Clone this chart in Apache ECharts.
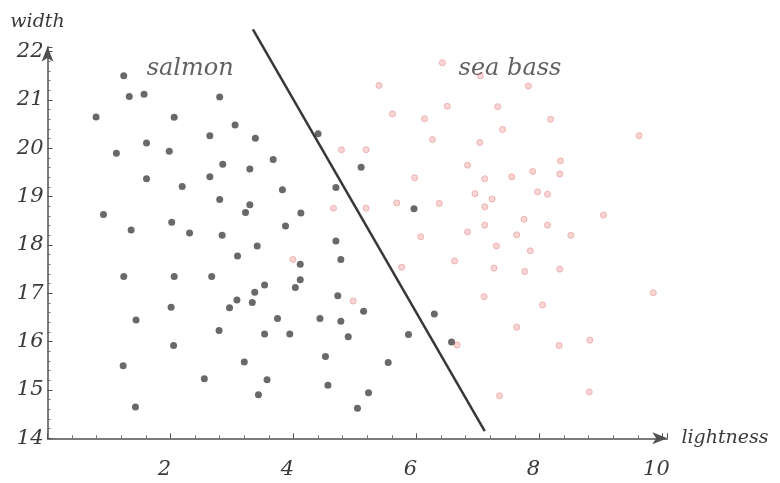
<!DOCTYPE html>
<html>
<head>
<meta charset="utf-8">
<script src="https://cdn.jsdelivr.net/npm/echarts@6/dist/echarts.min.js"></script>
<style>html,body{margin:0;padding:0;background:#fff}#c{width:780px;height:483px}</style>
</head>
<body>
<div id="c"></div>
<script>
// lightness, width
const salmon = [
  [1.24,21.50],[1.33,21.07],[1.57,21.12],[0.79,20.65],[2.06,20.64],[2.80,21.06],[3.05,20.48],
  [2.64,20.26],[3.38,20.21],[1.61,20.11],[1.12,19.90],[1.98,19.94],[2.85,19.67],[3.29,19.57],
  [1.61,19.37],[2.64,19.41],[2.19,19.21],[2.80,18.94],[3.29,18.83],[3.22,18.67],[0.91,18.63],
  [2.02,18.47],[1.36,18.31],[2.31,18.25],[2.84,18.20],[3.41,17.98],[3.09,17.77],[1.24,17.35],
  [2.06,17.35],[2.67,17.35],[3.37,17.02],[3.08,16.86],[3.33,16.81],[2.96,16.70],[2.01,16.71],
  [1.44,16.45],[2.79,16.23],[2.05,15.92],[1.23,15.50],[3.20,15.58],[2.55,15.23],[3.43,14.90],
  [1.43,14.65],[4.40,20.30],[3.67,19.77],[5.10,19.61],[4.69,19.19],[3.82,19.14],[4.12,18.66],
  [3.87,18.39],[5.96,18.75],[4.69,18.08],[4.77,17.70],[4.11,17.60],[4.11,17.28],[4.03,17.12],
  [3.53,17.17],[4.72,16.95],[5.14,16.63],[3.74,16.48],[4.43,16.48],[4.77,16.42],[3.53,16.16],
  [3.94,16.16],[4.89,16.10],[6.29,16.57],[5.87,16.15],[6.57,15.99],[4.52,15.69],[5.54,15.57],
  [3.57,15.21],[4.56,15.10],[5.22,14.94],[5.04,14.62]
];
const seaBass = [
  [6.42,21.77],[7.04,21.50],[5.39,21.30],[6.50,20.87],[7.32,20.86],[5.61,20.71],[6.13,20.61],
  [7.40,20.39],[6.26,20.18],[7.03,20.12],[4.78,19.97],[5.18,19.97],[6.83,19.65],[5.97,19.39],
  [7.11,19.37],[7.55,19.41],[6.95,19.06],[7.23,18.95],[5.68,18.87],[6.37,18.86],[4.65,18.76],
  [5.18,18.76],[7.11,18.79],[7.11,18.41],[6.83,18.27],[6.07,18.17],[7.63,18.21],[7.30,17.98],
  [3.99,17.70],[5.76,17.54],[6.62,17.67],[7.26,17.52],[4.97,16.84],[7.10,16.93],[7.63,16.30],
  [6.66,15.93],[7.35,14.88],[7.82,21.29],[8.18,20.60],[9.62,20.26],[8.34,19.74],[8.33,19.47],
  [7.89,19.52],[7.97,19.10],[8.13,19.05],[9.04,18.62],[7.75,18.53],[8.13,18.41],[8.51,18.20],
  [7.85,17.88],[7.76,17.45],[8.33,17.50],[9.85,17.01],[8.05,16.76],[8.32,15.92],[8.82,16.03],
  [8.81,14.96]
];
const boundary = [[3.34,22.46],[7.11,14.15]];
const xTicks = [2,4,6,8,10];
const yTicks = [14,15,16,17,18,19,20,21,22];
const classLabels = [{name:'salmon', at:[2.32,21.65]}, {name:'sea bass', at:[7.52,21.65]}];

const FONT = 'DejaVu Serif';
const TXT = '#3a3a3a';
const chart = echarts.init(document.getElementById('c'), null, {renderer:'canvas'});
chart.setOption({
  animation:false,
  backgroundColor:'#fff',
  grid:{left:47.5, right:112.6, top:46.8, bottom:44.7},
  xAxis:{
    type:'value', min:0, max:10.08, interval:2,
    name:'lightness', nameLocation:'end', nameGap:14,
    nameTextStyle:{fontFamily:FONT, fontStyle:'italic', fontSize:19, color:TXT, padding:[10,0,0,0]},
    axisLine:{show:true, onZero:false, symbol:['none','arrow'], symbolSize:[9,15], lineStyle:{color:'#505050', width:1.5}},
    axisTick:{show:true, inside:true, length:5, lineStyle:{color:'#505050'}},
    minorTick:{show:true, splitNumber:5, length:3, lineStyle:{color:'#707070'}},
    axisLabel:{margin:21, fontFamily:FONT, fontStyle:'italic', fontSize:21, color:TXT, showMinLabel:false, showMaxLabel:false, padding:[0,12,0,0],
      formatter:v=> xTicks.includes(v) ? String(v) : ''},
    splitLine:{show:false}
  },
  yAxis:{
    type:'value', min:14, max:22.1, interval:1,
    name:'width', nameLocation:'end', nameGap:15,
    nameTextStyle:{fontFamily:FONT, fontStyle:'italic', fontSize:19, color:TXT, padding:[0,20,0,0]},
    axisLine:{show:true, onZero:false, symbol:['none','arrow'], symbolSize:[9,15], lineStyle:{color:'#505050', width:1.5}},
    axisTick:{show:true, inside:true, length:5, lineStyle:{color:'#505050'}},
    minorTick:{show:true, splitNumber:5, length:3, lineStyle:{color:'#707070'}},
    axisLabel:{margin:4, fontFamily:FONT, fontStyle:'italic', fontSize:21, color:TXT, showMaxLabel:false,
      formatter:v=> yTicks.includes(v) ? String(v) : ''},
    splitLine:{show:false}
  },
  series:[
    {type:'scatter', name:'salmon', data:salmon, symbol:'circle', symbolSize:7,
     itemStyle:{color:'#444444'}, z:3},
    {type:'scatter', name:'sea bass', data:seaBass, symbol:'circle', symbolSize:6,
     itemStyle:{color:'#f7cccc', borderColor:'#eea2a2', borderWidth:1}, z:2},
    {type:'line', data:boundary, clip:false, symbol:'none', lineStyle:{color:'#383838', width:2.5}, z:4},
    {type:'scatter', data:classLabels.map(d=>({value:d.at, name:d.name})), symbolSize:0, clip:false,
     label:{show:true, position:'inside', formatter:p=>p.name, fontFamily:FONT, fontStyle:'italic', fontSize:24, color:TXT}, silent:true}
  ]
});
</script>
</body>
</html>
